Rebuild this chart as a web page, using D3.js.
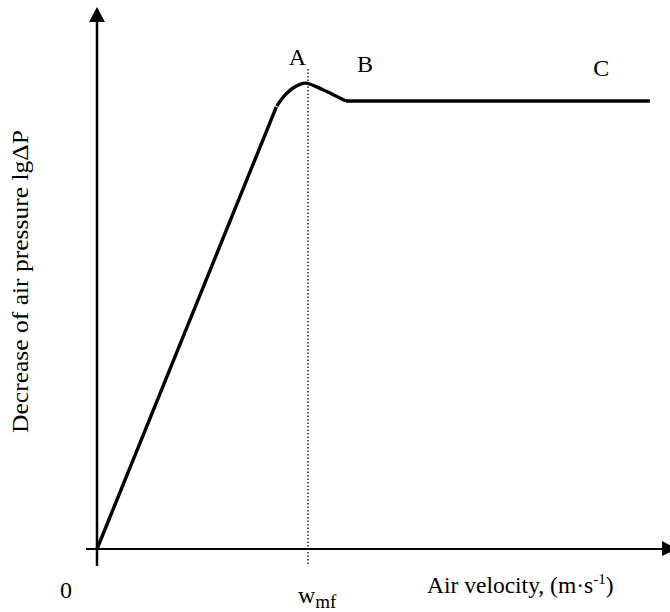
<!DOCTYPE html>
<html>
<head>
<meta charset="utf-8">
<script src="https://cdn.jsdelivr.net/npm/d3@7"></script>
<style>
  body { margin: 0; background: #fff; }
  text { font-family: "Liberation Serif", "Times New Roman", serif; fill: #000; }
</style>
</head>
<body>
<script>
// data, in chart units (wmf = 10, plateau = 10)
var riseX = [0, 8.5];
var riseY = [0, 9.87];
var humpX = [8.52, 8.91, 9.29, 9.86, 10.71, 11.37, 11.8];
var humpY = [9.89, 10.13, 10.29, 10.40, 10.25, 10.10, 10.0];
var plateauX = [11.8, 26.2];
var plateauY = [10.0, 10.0];
var wmf = 10;
var pointLabels = ["A", "B", "C"];
var pointLabelX = [9.5, 12.7, 23.9];
var pointLabelY = [10.8, 10.65, 10.55];

var width = 670,
    height = 612;

var x = d3.scaleLinear().domain([0, 27.2]).range([97, 671]);
var y = d3.scaleLinear().domain([0, 12]).range([549, 11.4]);

var svg = d3.select("body").append("svg")
    .attr("width", width)
    .attr("height", height);

var line = d3.line()
    .x(function(d) { return x(d[0]); })
    .y(function(d) { return y(d[1]); });

// axes
svg.append("line")
    .attr("x1", 86).attr("x2", 664)
    .attr("y1", y(0)).attr("y2", y(0))
    .attr("stroke", "#000").attr("stroke-width", 2);
svg.append("path")
    .attr("d", "M662,541 L677,549 L662,556 Z")
    .attr("fill", "#000");

svg.append("line")
    .attr("x1", x(0)).attr("x2", x(0))
    .attr("y1", 566).attr("y2", 20)
    .attr("stroke", "#000").attr("stroke-width", 2.5);
svg.append("path")
    .attr("d", "M89,22 L97,7 L105,22 Z")
    .attr("fill", "#000");

// wmf dotted line
svg.append("line")
    .attr("x1", x(wmf)).attr("x2", x(wmf))
    .attr("y1", 69).attr("y2", 566)
    .attr("stroke", "#000").attr("stroke-width", 1.3)
    .attr("stroke-dasharray", "1.5,2");

// curve
svg.append("path")
    .attr("d", line(d3.zip(riseX, riseY)))
    .attr("fill", "none").attr("stroke", "#000").attr("stroke-width", 3.4);

svg.append("path")
    .attr("d", line.curve(d3.curveCatmullRom)(d3.zip(humpX, humpY)))
    .attr("fill", "none").attr("stroke", "#000").attr("stroke-width", 3.4);

svg.append("path")
    .attr("d", line.curve(d3.curveLinear)(d3.zip(plateauX, plateauY)))
    .attr("fill", "none").attr("stroke", "#000").attr("stroke-width", 3.6);

// point labels
svg.selectAll("text.pt")
    .data(pointLabels)
  .enter().append("text")
    .attr("class", "pt")
    .attr("x", function(d, i) { return x(pointLabelX[i]); })
    .attr("y", function(d, i) { return y(pointLabelY[i]); })
    .attr("text-anchor", "middle")
    .style("font-size", "24px")
    .text(function(d) { return d; });

// axis texts
svg.append("text")
    .attr("x", 66).attr("y", 598)
    .attr("text-anchor", "middle")
    .style("font-size", "24px")
    .text("0");

var w = svg.append("text")
    .attr("x", 298).attr("y", 603)
    .style("font-size", "24px");
w.append("tspan").text("w");
w.append("tspan").attr("dy", 5).style("font-size", "19px").text("mf");

var xl = svg.append("text")
    .attr("x", 427).attr("y", 593)
    .style("font-size", "23.5px");
xl.append("tspan").text("Air velocity, (m·s");
xl.append("tspan").attr("dy", -9).style("font-size", "15px").text("-1");
xl.append("tspan").attr("dy", 9).text(")");

svg.append("text")
    .attr("transform", "translate(28,281.5) rotate(-90)")
    .attr("text-anchor", "middle")
    .attr("textLength", 303)
    .attr("lengthAdjust", "spacingAndGlyphs")
    .style("font-size", "23px")
    .text("Decrease of air pressure lgΔP");
</script>
</body>
</html>
